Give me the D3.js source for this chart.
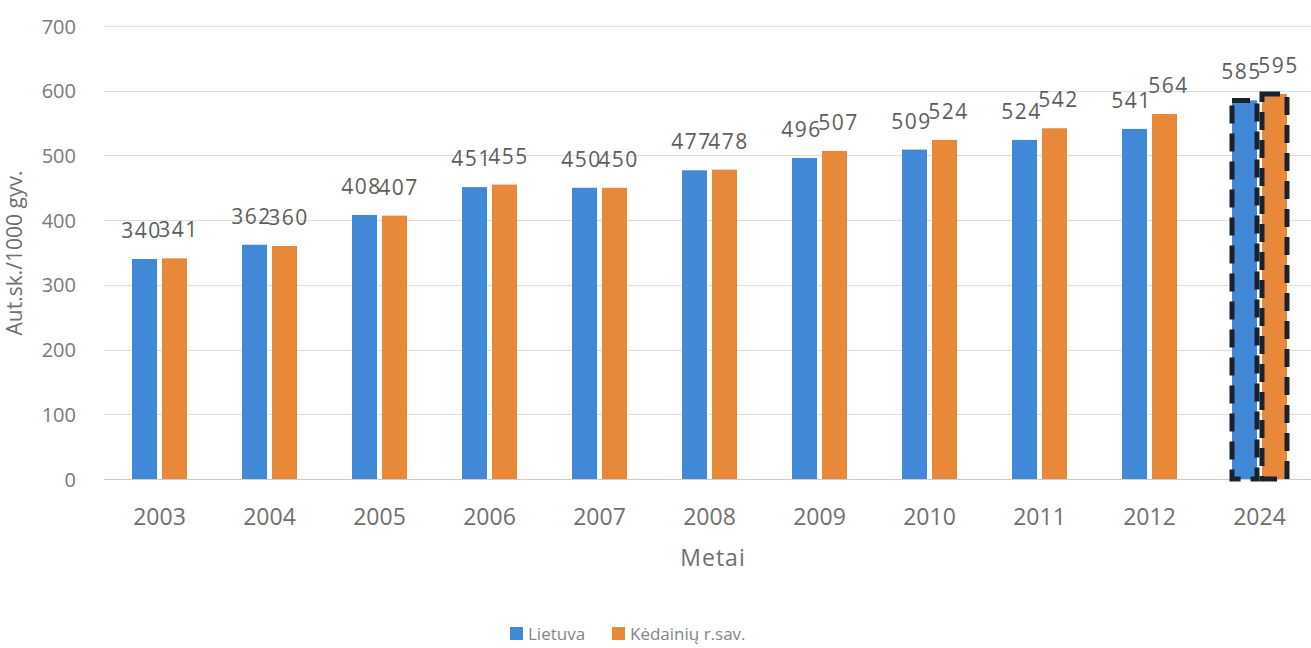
<!DOCTYPE html>
<html>
<head>
<meta charset="utf-8">
<script src="https://cdn.jsdelivr.net/npm/d3@7/dist/d3.min.js"></script>
<style>
  html, body { margin: 0; padding: 0; background: #ffffff; }
  svg { display: block; font-family: "Open Sans", "Noto Sans", sans-serif; }
</style>
</head>
<body>
<svg id="chart" width="1311" height="648"></svg>
<script>
// ---- data ----
const years = ["2003","2004","2005","2006","2007","2008","2009","2010","2011","2012","2024"];
const lietuva = [340, 362, 408, 451, 450, 477, 496, 509, 524, 541, 585];
const kedainiai = [341, 360, 407, 455, 450, 478, 507, 524, 542, 564, 595];
const seriesNames = ["Lietuva", "Kėdainių r.sav."];
const yTicks = [0, 100, 200, 300, 400, 500, 600, 700];
const xTitle = "Metai";
const yTitle = "Aut.sk./1000 gyv.";
const highlighted = ["2024"];

// ---- styles ----
const colors = ["#4189d6", "#e8893a"];
const W = 1311, H = 648;
const svg = d3.select("#chart");

const x0 = d3.scaleBand().domain(years).range([104.5, 1314.5]).paddingInner(0).paddingOuter(0);
const x1 = d3.scaleBand().domain(seriesNames).range([27.5, 82.5]).paddingInner(1/6).paddingOuter(0);
const y = d3.scaleLinear().domain([0, 700]).range([479, 26]);

// gridlines
svg.append("g")
  .selectAll("line")
  .data(yTicks)
  .join("line")
  .attr("x1", 104).attr("x2", W)
  .attr("y1", d => Math.round(y(d)) + 0.5)
  .attr("y2", d => Math.round(y(d)) + 0.5)
  .attr("stroke", d => d === 0 ? "#cccccc" : "#dddddd")
  .attr("stroke-width", 1);

// y axis tick labels
const yAxis = d3.axisLeft(y).tickValues(yTicks).tickSize(0).tickPadding(0);
const gy = svg.append("g").attr("transform", "translate(76,0)").call(yAxis);
gy.select(".domain").remove();
gy.selectAll("text")
  .attr("font-size", 20)
  .attr("fill", "#7a7a7a")
  .attr("font-family", "'Open Sans', sans-serif")
  .attr("dy", "0.35em");

// x axis tick labels
const xAxis = d3.axisBottom(x0).tickSize(0).tickPadding(0);
const gx = svg.append("g").attr("transform", "translate(0,525)").call(xAxis);
gx.select(".domain").remove();
gx.selectAll("text")
  .attr("font-size", 23)
  .attr("fill", "#707070")
  .attr("font-family", "'Open Sans', sans-serif")
  .attr("dy", 0);

// bars
const rows = years.map((yr, i) => ({ year: yr, vals: [lietuva[i], kedainiai[i]] }));
const groups = svg.append("g")
  .selectAll("g")
  .data(rows)
  .join("g")
  .attr("transform", d => `translate(${x0(d.year)},0)`);

const cells = groups.selectAll("g.cell")
  .data(d => d.vals.map((v, k) => ({ year: d.year, name: seriesNames[k], k, v })))
  .join("g").attr("class", "cell");

cells.append("rect")
  .attr("x", d => x1(d.name))
  .attr("width", x1.bandwidth())
  .attr("y", d => y(d.v))
  .attr("height", d => y(0) - y(d.v))
  .attr("fill", d => colors[d.k])
  .attr("stroke", d => highlighted.includes(d.year) ? "#17222e" : "none")
  .attr("stroke-width", 5)
  .attr("stroke-dasharray", "18,10");

// data labels
cells.append("text")
  .attr("x", d => x1(d.name) + x1.bandwidth() / 2 + (d.k === 0 ? -3 : 4))
  .attr("y", d => y(d.v) - 21)
  .attr("text-anchor", "middle")
  .attr("font-size", 21)
  .attr("letter-spacing", 1.5)
  .attr("fill", "#5e5e5e")
  .text(d => d.v);

// x title
svg.append("text")
  .attr("x", 713).attr("y", 566)
  .attr("text-anchor", "middle")
  .attr("font-size", 23)
  .attr("letter-spacing", 1)
  .attr("fill", "#707070")
  .text(xTitle);

// y title
svg.append("text")
  .attr("transform", "translate(22,253) rotate(-90)")
  .attr("text-anchor", "middle")
  .attr("font-size", 21)
  .attr("fill", "#707070")
  .text(yTitle);

// legend
const legendX = [510, 612];
const legend = svg.append("g")
  .selectAll("g")
  .data(seriesNames)
  .join("g")
  .attr("transform", (d, i) => `translate(${legendX[i]},627)`);
legend.append("rect")
  .attr("width", 13).attr("height", 13)
  .attr("fill", (d, i) => colors[i]);
legend.append("text")
  .attr("x", 18).attr("y", 13)
  .attr("font-size", 17)
  .attr("fill", "#858585")
  .text(d => d);
</script>
</body>
</html>
